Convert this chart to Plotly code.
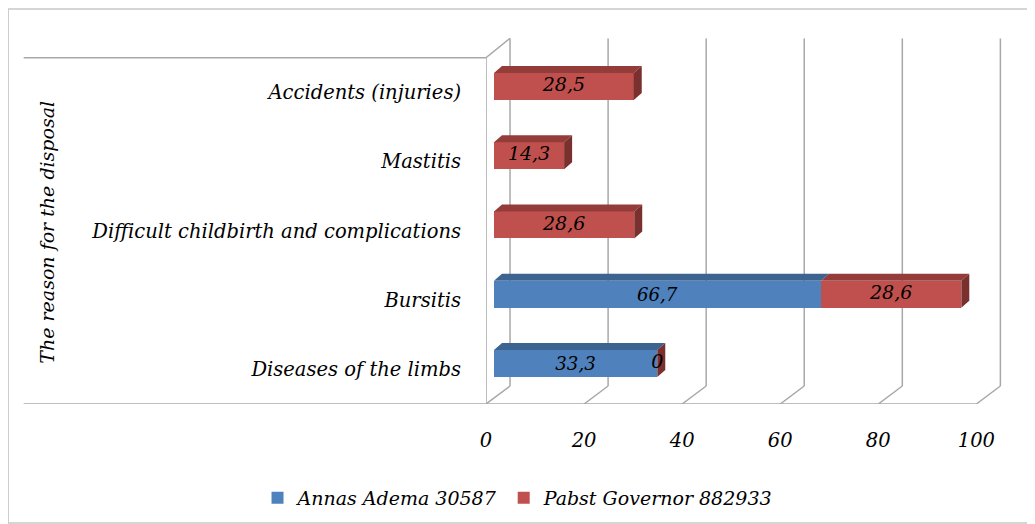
import plotly.graph_objects as go

# categories listed bottom to top, as on the chart
categories = ["Diseases of the limbs", "Bursitis", "Difficult childbirth and complications",
              "Mastitis", "Accidents (injuries)"]
annas = [33.3, 66.7, None, None, None]
pabst = [0, 28.6, 28.6, 14.3, 28.5]
x_ticks = [0, 20, 40, 60, 80, 100]

BLUE, BLUE_TOP = "#4F81BD", "#3D6491"
RED, RED_TOP, RED_SIDE = "#C0504D", "#943C3A", "#7A302E"
GRID = "#A8A8A8"
FONT = "DejaVu Serif"

# fake 3d look: bars sit a bit behind the front plane
BAR_W = 0.39
BAR_SHIFT = 0.086        # bars drawn slightly above the slot centre
DX, DY = 1.63, 0.10      # bar depth (x units, y units)
WALL_X0 = -1.63          # front plane x for value 0
BACK_DX, BACK_DY = 4.9, 0.26
X_MAX = 103.6

# figure / plot box in pixels
W, H = 1027, 516
L, T, B = 478, 29, 396
R = L + (X_MAX - WALL_X0) * 4.9


def px(x):
    return (x - L) / (R - L)


def py(y):
    return (B - y) / (B - T)


def fmt(v):
    return str(v).replace(".", ",") if v else "0"


pos = [i + BAR_SHIFT for i in range(len(categories))]
lbl_font = dict(color="black", size=19, family=FONT, style="italic")

fig = go.Figure()
fig.add_trace(go.Bar(y=pos, x=annas, orientation="h", width=BAR_W, name="Annas Adema 30587",
                     marker=dict(color=BLUE, line_width=0),
                     text=[fmt(v) if v is not None else "" for v in annas],
                     textposition="inside", insidetextanchor="middle", textfont=lbl_font))
fig.add_trace(go.Bar(y=pos, x=pabst, orientation="h", width=BAR_W, name="Pabst Governor 882933",
                     marker=dict(color=RED, line_width=0), textposition="none"))


# top and side faces
def faces(starts, lens, ys, top=True, side=False):
    xs, yy = [], []
    for s, l, y in zip(starts, lens, ys):
        if l is None:
            continue
        yt, yb = y + BAR_W / 2, y - BAR_W / 2
        e = s + l
        if top:
            xs += [s, e, e + DX, s + DX, s, None]
            yy += [yt, yt, yt + DY, yt + DY, yt, None]
        if side:
            xs += [e, e + DX, e + DX, e, e, None]
            yy += [yb, yb + DY, yt + DY, yt, yb, None]
    return xs, yy


base = [a or 0 for a in annas]
bx, by = faces([0] * 5, annas, pos)
rx, ry = faces(base, pabst, pos)
sx, sy = faces(base, pabst, pos, top=False, side=True)
for xs, ys, c in [(bx, by, BLUE_TOP), (rx, ry, RED_TOP), (sx, sy, RED_SIDE)]:
    fig.add_trace(go.Scatter(x=xs, y=ys, mode="lines", fill="toself", fillcolor=c,
                             line=dict(width=0), hoverinfo="skip", showlegend=False))

# red data labels (incl. the zero one)
fig.add_trace(go.Scatter(x=[b + v / 2 for b, v in zip(base, pabst)], y=pos, mode="text",
                         text=[fmt(v) for v in pabst], showlegend=False, hoverinfo="skip",
                         textfont=lbl_font))

shapes = []
line = dict(color=GRID, width=1.5)
for v in x_ticks:
    bxv = v + WALL_X0 + BACK_DX
    shapes.append(dict(type="line", xref="x", yref="y", x0=bxv, x1=bxv,
                       y0=-0.5 + BACK_DY, y1=4.78, line=line, layer="below"))
    shapes.append(dict(type="line", xref="x", yref="y", x0=v + WALL_X0, x1=bxv,
                       y0=-0.5, y1=-0.5 + BACK_DY, line=line, layer="below"))
# floor front edge, left wall
shapes.append(dict(type="line", xref="x", yref="y", x0=WALL_X0, x1=100 + WALL_X0,
                   y0=-0.5, y1=-0.5, line=line, layer="below"))
shapes.append(dict(type="line", xref="x", yref="y", x0=WALL_X0, x1=WALL_X0,
                   y0=-0.5, y1=4.5, line=line, layer="below"))
shapes.append(dict(type="line", xref="x", yref="y", x0=WALL_X0, x1=WALL_X0 + BACK_DX,
                   y0=4.5, y1=4.78, line=line, layer="below"))
# label area lines on the left
for yv in [-0.5, 4.5]:
    shapes.append(dict(type="line", xref="paper", yref="y", x0=px(16), x1=0,
                       y0=yv, y1=yv, line=line, layer="below"))
# chart border (right edge falls outside the window)
shapes.append(dict(type="rect", xref="paper", yref="paper", x0=px(0.5), x1=px(1045),
                   y0=py(515), y1=py(1), line=dict(color="#C8C8C8", width=1.5)))

fig.update_layout(
    width=W, height=H, barmode="stack", bargap=0,
    margin=dict(l=L, r=W - R, t=T, b=H - B, autoexpand=False),
    plot_bgcolor="white", paper_bgcolor="white",
    font=dict(family=FONT, size=19, color="black", style="italic"),
    shapes=shapes,
    legend=dict(orientation="h", x=px(510), xanchor="center", y=py(490), yanchor="middle",
                font=dict(size=19), traceorder="normal"),
    annotations=[dict(text="The reason for the disposal", textangle=-90, xref="paper", yref="paper",
                      x=px(39), y=py(224), xanchor="center", yanchor="middle",
                      showarrow=False, font=dict(size=19))],
)
fig.update_xaxes(range=[WALL_X0, X_MAX], tickvals=x_ticks, showgrid=False, zeroline=False,
                 showline=False, ticklabelshift=-8, ticklabelstandoff=22,
                 tickfont=dict(size=19.5), fixedrange=True)
fig.update_yaxes(range=[-0.5, 4.8], tickvals=list(range(5)), ticktext=categories,
                 showgrid=False, zeroline=False, showline=False, ticklabelstandoff=24,
                 tickfont=dict(size=19.5), fixedrange=True)

fig.write_html("out.html")
